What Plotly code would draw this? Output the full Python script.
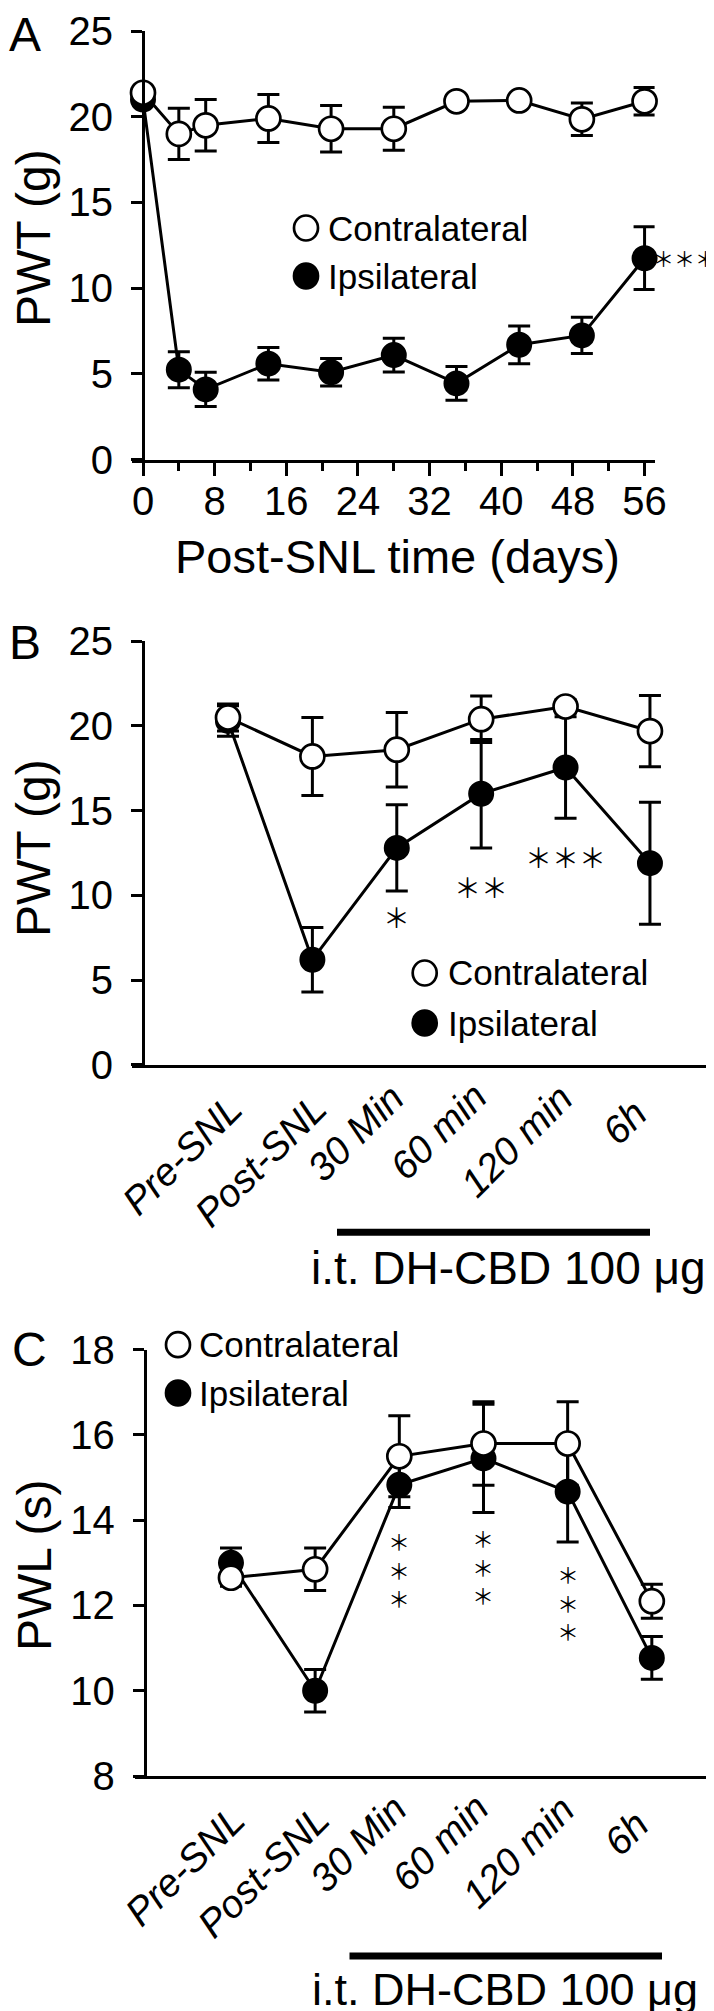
import plotly.graph_objects as go

W, H = 714, 2011
FONT = "Liberation Sans, Arial, Helvetica, sans-serif"

# ---------------- data ----------------
# Panel A: time course after SNL
days = [0, 4, 7, 14, 21, 28, 35, 42, 49, 56]
a_contra = [21.4, 19.0, 19.5, 19.9, 19.3, 19.3, 20.9, 20.95, 19.85, 20.9]
a_contra_err = [0.3, 1.5, 1.5, 1.4, 1.35, 1.25, 0.3, 0.3, 0.95, 0.8]
a_ipsi = [21.0, 5.25, 4.1, 5.6, 5.1, 6.1, 4.45, 6.7, 7.25, 11.75]
a_ipsi_err = [0.3, 1.05, 1.0, 0.95, 0.8, 0.98, 0.98, 1.1, 1.05, 1.83]
a_ticks = [0, 8, 16, 24, 32, 40, 48, 56]

# Panel B: PWT after i.t. DH-CBD
timepoints = ["Pre-SNL", "Post-SNL", "30 Min", "60 min", "120 min", "6h"]
b_contra = [20.5, 18.2, 18.6, 20.4, 21.15, 19.7]
b_contra_err = [0.8, 2.3, 2.2, 1.37, 0.4, 2.1]
b_ipsi = [20.3, 6.2, 12.8, 16.0, 17.55, 11.9]
b_ipsi_err = [0.9, 1.9, 2.55, 3.2, 3.0, 3.6]
b_sig = ["", "", "＊", "＊＊", "＊＊＊", ""]

# Panel C: PWL after i.t. DH-CBD
c_contra = [12.65, 12.85, 15.5, 15.8, 15.8, 12.1]
c_contra_err = [0.2, 0.5, 0.95, 0.98, 0.98, 0.4]
c_ipsi = [13.0, 10.0, 14.83, 15.45, 14.67, 10.77]
c_ipsi_err = [0.35, 0.5, 0.53, 1.27, 1.18, 0.5]
c_sig = ["", "", "＊＊＊", "＊＊＊", "＊＊＊", ""]

legend_names = ["Contralateral", "Ipsilateral"]
drug_label = "i.t. DH-CBD 100 μg"

# label placement (pixels): right-edge offset from category, top offset below axis
cat_dx = [24, 24, 17, 15, 17, 6]
cat_dtop = [20, 20, 10, 9, 10, 26]


def px(x):
    return x / W


def py(y):
    return 1 - y / H


fig = go.Figure()

MS = 24
LW = 3


def add_pair(x, contra, contra_err, ipsi, ipsi_err, xa, ya):
    fig.add_trace(go.Scatter(
        x=x, y=ipsi, mode="lines+markers", xaxis=xa, yaxis=ya,
        line=dict(color="black", width=LW),
        marker=dict(size=MS, color="black", line=dict(color="black", width=2)),
        error_y=dict(type="data", array=ipsi_err, color="black", thickness=LW, width=11),
        cliponaxis=False, showlegend=False, name=legend_names[1]))
    fig.add_trace(go.Scatter(
        x=x, y=contra, mode="lines+markers", xaxis=xa, yaxis=ya,
        line=dict(color="black", width=LW),
        marker=dict(size=MS, color="white", line=dict(color="black", width=2.7)),
        error_y=dict(type="data", array=contra_err, color="black", thickness=LW, width=11),
        cliponaxis=False, showlegend=False, name=legend_names[0]))


add_pair(days, a_contra, a_contra_err, a_ipsi, a_ipsi_err, "x", "y")
add_pair(timepoints, b_contra, b_contra_err, b_ipsi, b_ipsi_err, "x2", "y2")
add_pair(timepoints, c_contra, c_contra_err, c_ipsi, c_ipsi_err, "x3", "y3")

axis_common = dict(showgrid=False, zeroline=False, showline=True, linecolor="black",
                   linewidth=LW, tickcolor="black", tickwidth=LW, automargin=False)

tickfont = dict(family=FONT, size=40, color="black")
yax = dict(ticks="outside", ticklen=11, tickfont=tickfont, ticklabelstandoff=10,
           ticklabeloverflow="allow", anchor="free", **axis_common)

fig.update_layout(
    template="none",
    width=W, height=H, margin=dict(l=0, r=0, t=0, b=0, pad=0),
    paper_bgcolor="white", plot_bgcolor="white", showlegend=False,
    font=dict(family=FONT, color="black"),
    xaxis=dict(domain=[px(124.3), px(646.6)], range=[-1.195, 57.12], anchor="y",
               tickmode="array", tickvals=a_ticks, ticks="outside", ticklen=13,
               minor=dict(dtick=4, tick0=0, ticks="outside", ticklen=8, tickwidth=LW, tickcolor="black"),
               tickfont=tickfont, ticklabelstandoff=-9, ticklabeloverflow="allow", **axis_common),
    yaxis=dict(domain=[py(451.7), py(23)], range=[0, 25], position=px(135), dtick=5, **yax),
    xaxis2=dict(domain=[px(124.3), px(712)], range=[-1.134, 5.83], anchor="y2", type="category",
                ticks="", showticklabels=False, **axis_common),
    yaxis2=dict(domain=[py(1056.7), py(633.3)], range=[0, 25], position=px(135), dtick=5, **yax),
    xaxis3=dict(domain=[px(126.6), px(712)], range=[-1.145, 5.81], anchor="y3", type="category",
                ticks="", showticklabels=False, **axis_common),
    yaxis3=dict(domain=[py(1768), py(1341.7)], range=[8, 18], position=px(136.7), dtick=2, **yax),
)

ann = []


def text(x, y, s, size, xanchor="center", yanchor="middle", angle=0, family=FONT):
    ann.append(dict(x=px(x), y=py(y), xref="paper", yref="paper", text=s, showarrow=False,
                    xanchor=xanchor, yanchor=yanchor, textangle=angle, borderpad=0,
                    font=dict(family=family, size=size, color="black")))


# panel letters
text(0, 27, "A", 48, xanchor="left")
text(0, 634, "B", 48, xanchor="left")
text(3, 1341, "C", 48, xanchor="left")

# axis titles
text(26, 230, "PWT (g)", 48, angle=-90)
text(26, 840, "PWT (g)", 48, angle=-90)
text(26, 1557, "PWL (s)", 48, angle=-90)
text(390, 549, "Post-SNL time (days)", 47)

# drug bar labels
text(501, 1260, drug_label, 46)
text(497, 1981, drug_label, 45)

# rotated italic category labels
for xa, axis_y in (("x2", 1056.7), ("x3", 1768)):
    for i, lab in enumerate(timepoints):
        ann.append(dict(x=lab, xref=xa, y=py(axis_y + cat_dtop[i]), yref="paper", text=lab,
                        showarrow=False, xanchor="right", yanchor="top", textangle=-45,
                        xshift=cat_dx[i], borderpad=0,
                        font=dict(family=FONT, size=39, color="black", style="italic")))

# legends
shapes = []


def legend(cx, cy1, cy2, tx):
    for cy, fill in ((cy1, "white"), (cy2, "black")):
        shapes.append(dict(type="circle", xref="paper", yref="paper",
                           xsizemode="pixel", ysizemode="pixel",
                           xanchor=px(cx), yanchor=py(cy), x0=-12, x1=12, y0=-12.5, y1=12.5,
                           fillcolor=fill, line=dict(color="black", width=2.7)))
    text(tx, cy1, legend_names[0], 35, xanchor="left")
    text(tx, cy2, legend_names[1], 35, xanchor="left")


legend(298, 220, 268, 319)
legend(416.7, 965, 1015, 439)
legend(170, 1336.7, 1385, 190)

# drug bars
shapes.append(dict(type="line", xref="paper", yref="paper", x0=px(329), x1=px(642),
                   y0=py(1224.3), y1=py(1224.3), line=dict(color="black", width=7)))
shapes.append(dict(type="line", xref="paper", yref="paper", x0=px(341.5), x1=px(654),
                   y0=py(1948), y1=py(1948), line=dict(color="black", width=7)))

STAR = "Noto Sans CJK JP"
# panel A significance
ann.append(dict(x=days[-1], y=a_ipsi[-1], xref="x", yref="y", text="＊＊＊", showarrow=False,
                xanchor="left", yanchor="middle", xshift=7, borderpad=0,
                font=dict(family=STAR, size=21, color="black")))
# panel B significance (below the ipsilateral error bars)
b_star_y = [0, 0, 908, 878, 848, 0]
for i, s in enumerate(b_sig):
    if s:
        ann.append(dict(x=timepoints[i], y=py(b_star_y[i]), xref="x2", yref="paper", text=s,
                        showarrow=False, xanchor="center", yanchor="middle", borderpad=0,
                        font=dict(family=STAR, size=27, color="black")))
# panel C significance (vertical stacks)
c_star_y = [0, 0, 1560, 1557, 1593, 0]
for i, s in enumerate(c_sig):
    if s:
        ann.append(dict(x=timepoints[i], y=py(c_star_y[i]), xref="x3", yref="paper",
                        text="<br>".join(s), showarrow=False, xanchor="center", yanchor="middle",
                        borderpad=0, font=dict(family=STAR, size=22, color="black")))

fig.update_layout(annotations=ann, shapes=shapes)
fig.write_html("out.html")
